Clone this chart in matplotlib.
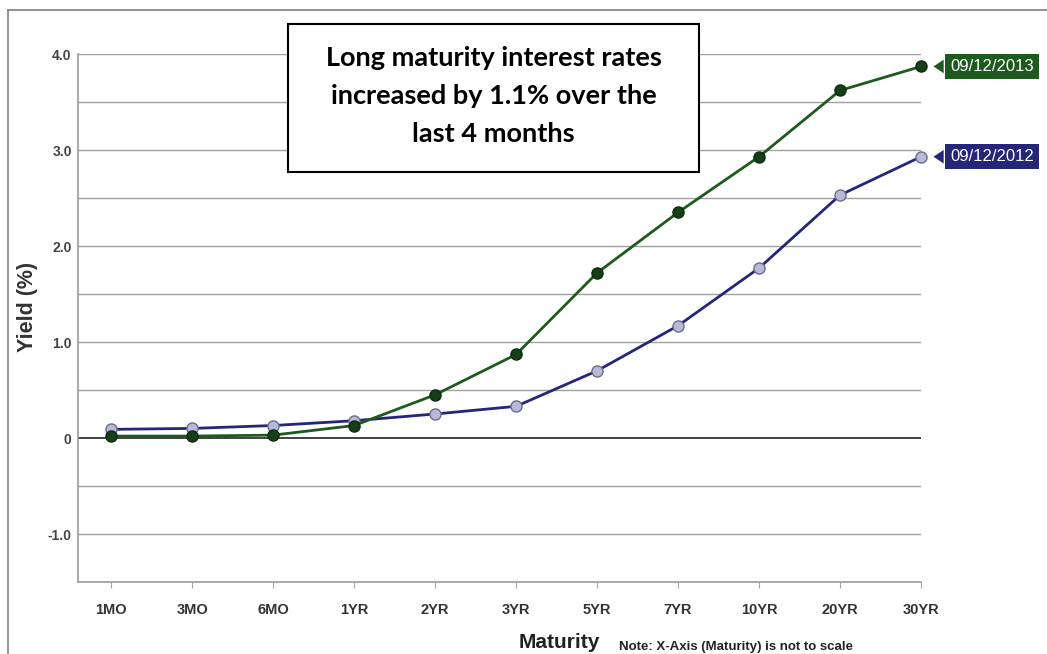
import matplotlib
matplotlib.use("Agg")
import matplotlib.pyplot as plt
from matplotlib.lines import Line2D

maturities = ["1MO", "3MO", "6MO", "1YR", "2YR", "3YR", "5YR", "7YR", "10YR", "20YR", "30YR"]
yield_2013 = [0.02, 0.02, 0.03, 0.13, 0.45, 0.87, 1.72, 2.35, 2.93, 3.62, 3.87]
yield_2012 = [0.09, 0.10, 0.13, 0.18, 0.25, 0.33, 0.70, 1.17, 1.77, 2.53, 2.93]
label_2013 = "09/12/2013"
label_2012 = "09/12/2012"
ytick_vals = [-1.0, 0.0, 1.0, 2.0, 3.0, 4.0]
ytick_labels = ["-1.0", "0", "1.0", "2.0", "3.0", "4.0"]
box_text = "Long maturity interest rates\nincreased by 1.1% over the\nlast 4 months"

GREEN = "#1e5a1e"
GREEN_M = "#173f17"
BLUE = "#25257a"
BLUE_M = "#b6b9d9"

W, H = 1047, 654
fig = plt.figure(figsize=(W / 100, H / 100), dpi=100)
ax = fig.add_axes([78 / W, 1 - 582 / H, 843 / W, 528 / H])

x = list(range(len(maturities)))
ax.set_xlim(-0.41, len(maturities) - 1)
ax.set_ylim(-1.5, 4.0)

# gridlines
for g in [v / 2 for v in range(-2, 9)]:
    if g == 0:
        ax.axhline(g, color="#333333", lw=1.3, zorder=1)
    else:
        ax.axhline(g, color="#a0a0a0", lw=1.0, zorder=1)

ax.plot(x, yield_2012, color=BLUE, lw=2.0, marker="o", ms=8,
        mfc=BLUE_M, mec="#6d6d8a", mew=1.0, zorder=3, clip_on=False)
ax.plot(x, yield_2013, color=GREEN, lw=2.0, marker="o", ms=8,
        mfc=GREEN_M, mec="#0f2a0f", mew=1.0, zorder=4, clip_on=False)

for spine in ["top", "right"]:
    ax.spines[spine].set_visible(False)
ax.spines["left"].set_color("#999999")
ax.spines["bottom"].set_color("#999999")
ax.spines["left"].set_linewidth(1.2)
ax.spines["bottom"].set_linewidth(1.2)

ax.set_xticks(x)
ax.set_xticklabels(maturities, fontsize=10.5, fontweight="bold", color="#333333",
                   family="Liberation Sans")
ax.tick_params(axis="x", length=4, color="#aaaaaa", pad=11)
ax.set_yticks(ytick_vals)
ax.set_yticklabels(ytick_labels, fontsize=10, fontweight="bold", color="#444444",
                   family="Liberation Sans")
ax.tick_params(axis="y", length=0, pad=4.5)

ax.set_ylabel("Yield (%)", fontsize=15.5, fontweight="bold", color="#333333",
              family="Liberation Sans")
ax.yaxis.set_label_coords((38 - 78) / 843, (582 - 307) / 528)

# end labels
for vals, lab, col in [(yield_2013, label_2013, GREEN), (yield_2012, label_2012, BLUE)]:
    ax.annotate(lab, xy=(x[-1], vals[-1]), xytext=(21, 0), textcoords="offset points",
                ha="left", va="center", fontsize=12, color="white", family="Liberation Sans",
                bbox=dict(boxstyle="square,pad=0.3", fc=col, ec="none"),
                arrowprops=dict(arrowstyle="-|>,head_length=0.6,head_width=0.4",
                                color=col, shrinkA=0, shrinkB=9, lw=0.1),
                annotation_clip=False, zorder=5)

# callout box
fig.add_artist(plt.Rectangle((288 / W, 1 - 172 / H), (699 - 288) / W, (172 - 24) / H,
                             transform=fig.transFigure, fc="white", ec="black", lw=1.5))
fig.text((288 + 699) / 2 / W, 1 - 96 / H, box_text, ha="center", va="center",
         fontsize=19.5, fontweight="bold", family="Lato", linespacing=1.72,
         color="black")

# axis title and note
fig.text(559 / W, 1 - 642 / H, "Maturity", ha="center", va="center", fontsize=15,
         fontweight="bold", family="Liberation Sans", color="#222222")
fig.text(619 / W, 1 - 647 / H, "Note: X-Axis (Maturity) is not to scale", ha="left",
         va="center", fontsize=9.5, fontweight="bold", family="Liberation Sans",
         color="#222222")

# page frame lines
fig.add_artist(Line2D([8 / W, 1], [1 - 10 / H, 1 - 10 / H], color="#808080", lw=1.2))
fig.add_artist(Line2D([8 / W, 8 / W], [0, 1 - 10 / H], color="#808080", lw=1.2))

fig.savefig("out.png", dpi=100)
